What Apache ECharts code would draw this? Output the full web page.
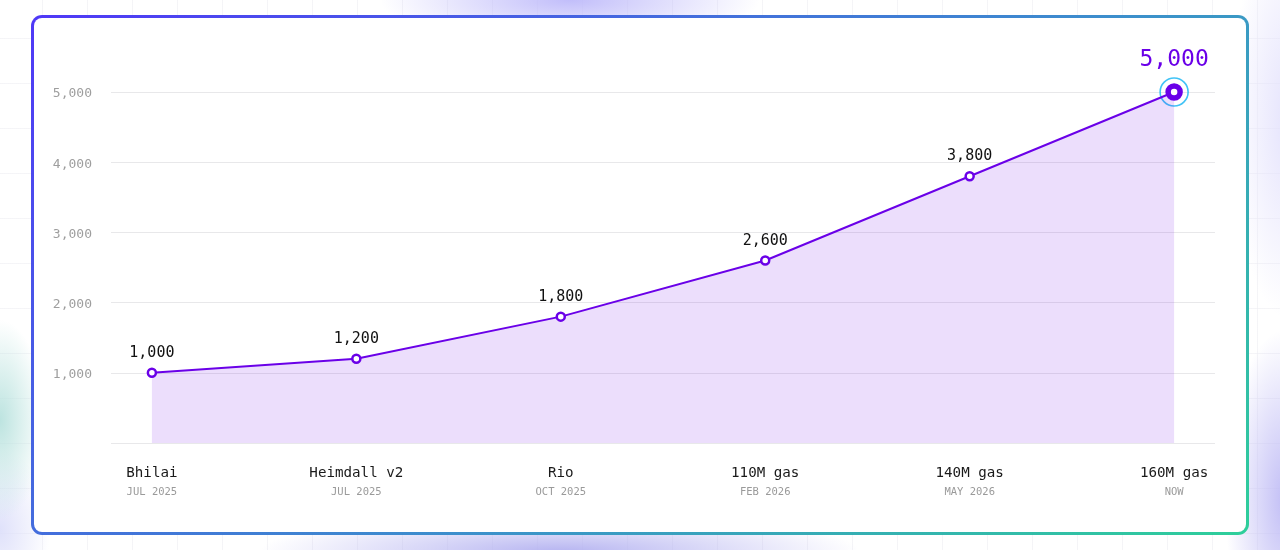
<!DOCTYPE html>
<html>
<head>
<meta charset="utf-8">
<script src="https://cdn.jsdelivr.net/npm/echarts@6/dist/echarts.min.js"></script>
<style>
  html, body { margin:0; padding:0; width:1280px; height:550px; overflow:hidden; }
  body {
    position: relative;
    background-color: #ffffff;
    background-image:
      radial-gradient(ellipse 190px 45px at 570px 0px, rgba(190,186,250,0.95), rgba(190,186,250,0) 100%),
      radial-gradient(ellipse 300px 40px at 560px 552px, rgba(178,176,240,0.95), rgba(178,176,240,0) 100%),
      radial-gradient(ellipse 60px 170px at 1285px 500px, rgba(190,186,245,0.95), rgba(190,186,245,0) 100%),
      radial-gradient(ellipse 60px 200px at 1290px 120px, rgba(225,223,252,0.9), rgba(225,223,252,0) 100%),
      radial-gradient(ellipse 45px 100px at 0px 420px, rgba(185,226,222,0.95), rgba(185,226,222,0) 100%),
      radial-gradient(ellipse 50px 80px at 0px 530px, rgba(220,222,250,0.9), rgba(220,222,250,0) 100%),
      linear-gradient(to right, rgba(238,238,242,0.6) 1px, transparent 1px),
      linear-gradient(to bottom, rgba(238,238,242,0.6) 1px, transparent 1px);
    background-size: auto, auto, auto, auto, auto, auto, 45px 45px, 45px 45px;
    background-position: 0 0, 0 0, 0 0, 0 0, 0 0, 0 0, 42px 0, 0 38px;
    background-repeat: no-repeat, no-repeat, no-repeat, no-repeat, no-repeat, no-repeat, repeat, repeat;
  }
  #card {
    position:absolute; left:31px; top:15px; width:1218px; height:520px;
    box-sizing:border-box; border-radius:11px; padding:3px;
    background: linear-gradient(142deg, #4f38f7 0%, #3c8fcc 58%, #2ecf9a 100%);
  }
  #inner { width:100%; height:100%; background:#ffffff; border-radius:8px; }
  #chart { position:absolute; left:0; top:0; width:1280px; height:550px; }
</style>
</head>
<body>
<div id="card"><div id="inner"></div></div>
<div id="chart"></div>
<script>
const categories = ['Bhilai', 'Heimdall v2', 'Rio', '110M gas', '140M gas', '160M gas'];
const dates = ['JUL 2025', 'JUL 2025', 'OCT 2025', 'FEB 2026', 'MAY 2026', 'NOW'];
const values = [1000, 1200, 1800, 2600, 3800, 5000];
const yTicks = [0, 1000, 2000, 3000, 4000, 5000];

const FONT = 'DejaVu Sans Mono';
const PURPLE = '#6a00e8';
const fmt = v => Number(v).toLocaleString('en-US');
const lastIdx = values.length - 1;

const lineData = values.map((v, i) => {
  const item = { value: [i, v] };
  if (i === lastIdx) {
    item.symbolSize = 12;
    item.itemStyle = { color: '#ffffff', borderColor: PURPLE, borderWidth: 5.5 };
    item.label = { fontSize: 23, color: PURPLE, distance: 12 };
  }
  return item;
});

const chart = echarts.init(document.getElementById('chart'), null, { renderer: 'canvas' });
chart.setOption({
  backgroundColor: 'transparent',
  animation: false,
  textStyle: { fontFamily: FONT },
  grid: { left: 111, right: 65, top: 92, bottom: 107, containLabel: false },
  xAxis: {
    type: 'value',
    min: -0.2,
    max: 5.2,
    axisLine: { show: false },
    axisTick: { show: false },
    splitLine: { show: false },
    axisLabel: {
      customValues: categories.map((c, i) => i),
      margin: 21,
      formatter: v => '{n|' + categories[Math.round(v)] + '}\n{d|' + dates[Math.round(v)] + '}',
      rich: {
        n: { fontFamily: FONT, fontSize: 14.2, color: '#1a1a1a', lineHeight: 18 },
        d: { fontFamily: FONT, fontSize: 10.5, color: '#9a9a9a', lineHeight: 20 }
      }
    }
  },
  yAxis: {
    type: 'value',
    min: yTicks[0],
    max: yTicks[yTicks.length - 1],
    interval: 1000,
    axisLine: { show: false },
    axisTick: { show: false },
    splitLine: { show: true, lineStyle: { color: '#e8e8ea', width: 1 } },
    axisLabel: {
      margin: 19,
      formatter: v => (v === 0 ? '' : '{a|' + fmt(v) + '}'),
      rich: {
        a: { fontFamily: FONT, fontSize: 13, color: '#9e9e9e', padding: [4, 0, 0, 0] }
      }
    }
  },
  series: [
    {
      type: 'scatter',
      z: 1,
      silent: true,
      symbol: 'circle',
      symbolSize: 28,
      itemStyle: { color: 'rgba(255,255,255,0)', borderColor: '#12b4f4', borderWidth: 1.6 },
      data: [[lastIdx, values[lastIdx]]]
    },
    {
      type: 'line',
      z: 2,
      data: lineData,
      symbol: 'circle',
      symbolSize: 8,
      showAllSymbol: true,
      lineStyle: { color: PURPLE, width: 2 },
      itemStyle: { color: '#ffffff', borderColor: PURPLE, borderWidth: 2.5 },
      areaStyle: { color: 'rgba(106,0,232,0.13)', opacity: 1, origin: 'start' },
      label: {
        show: true,
        position: 'top',
        distance: 7,
        fontFamily: FONT,
        fontSize: 15,
        color: '#111111',
        formatter: p => fmt(p.value[1])
      }
    }
  ]
});
</script>
</body>
</html>
